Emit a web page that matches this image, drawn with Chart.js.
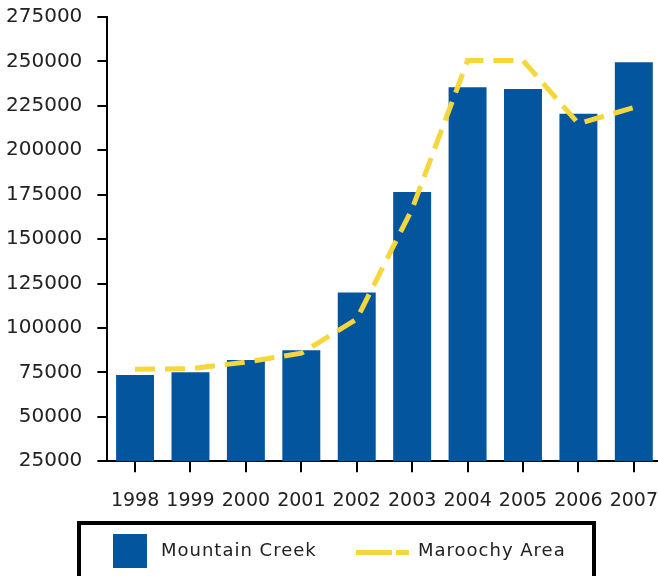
<!DOCTYPE html>
<html>
<head>
<meta charset="utf-8">
<script src="https://cdn.jsdelivr.net/npm/chart.js@4.4.1/dist/chart.umd.min.js"></script>
<style>
    html, body { margin: 0; padding: 0; background: #fff; overflow: hidden; width: 658px; height: 576px; }
    #wrap { position: absolute; left: -15px; top: -10px; width: 690px; height: 549px; }
    #legend {
        position: absolute; left: 77px; top: 521px; width: 519px; height: 60px;
        border: 4px solid #000; box-sizing: border-box;
        font-family: "DejaVu Sans", sans-serif; font-size: 18px; color: #222;
    }
    .sq { position: absolute; left: 32px; top: 9px; width: 34px; height: 34px; background: #03559e; }
    .lbl1 { position: absolute; left: 80px; top: 14px; letter-spacing: 1px; }
    .d1 { position: absolute; left: 275px; top: 25px; width: 36px; height: 5px; background: #f5d63c; }
    .d2 { position: absolute; left: 315px; top: 25px; width: 13px; height: 5px; background: #f5d63c; }
    .lbl2 { position: absolute; left: 337px; top: 14px; letter-spacing: 1px; }
</style>
</head>
<body>
<div id="wrap"><canvas id="grafico" width="690" height="549"></canvas></div>
<div id="legend">
    <div class="sq"></div><span class="lbl1">Mountain Creek</span>
    <div class="d1"></div><div class="d2"></div><span class="lbl2">Maroochy Area</span>
</div>
<script>
const years = ['1998', '1999', '2000', '2001', '2002', '2003', '2004', '2005', '2006', '2007'];
const mountainCreek = [73500, 75000, 82000, 87500, 120000, 176500, 235500, 234500, 220500, 249500];
const maroochyArea = [76800, 77000, 80800, 85800, 105000, 167000, 250500, 250500, 215000, 224000];
const yMin = 25000;
const yMax = 275000;
const yStep = 25000;

const fuente = { family: 'DejaVu Sans', size: 20 };

const ctx = document.getElementById('grafico');
new Chart(ctx, {
    type: 'bar',
    data: {
        labels: years,
        datasets: [{
            type: 'line',
            label: 'Maroochy Area',
            data: maroochyArea,
            borderColor: '#f5d63c',
            borderWidth: 5,
            borderDash: [20, 10],
            pointRadius: 0,
            tension: 0,
            fill: false,
            order: 0
        }, {
            label: 'Mountain Creek',
            data: mountainCreek,
            backgroundColor: '#03559e',
            categoryPercentage: 1,
            barPercentage: 0.685,
            order: 1
        }]
    },
    options: {
        responsive: false,
        animation: false,
        maintainAspectRatio: false,
        layout: { padding: { left: 6, top: 7, right: 0, bottom: 10 } },
        plugins: {
            legend: { display: false },
            tooltip: { enabled: false }
        },
        scales: {
            x: {
                grid: { display: true, offset: false, drawOnChartArea: false, tickLength: 11, color: '#000', lineWidth: 2 },
                border: { color: '#000', width: 2 },
                ticks: { color: '#222', font: { family: 'DejaVu Sans', size: 19 }, padding: 17, maxRotation: 0, autoSkip: false }
            },
            y: {
                min: yMin,
                max: yMax,
                grid: { display: true, drawOnChartArea: false, tickLength: 10, color: '#000', lineWidth: 2 },
                border: { color: '#000', width: 2 },
                ticks: { stepSize: yStep, color: '#222', font: fuente, padding: 15, callback: v => String(v) }
            }
        }
    }
});
</script>
</body>
</html>
